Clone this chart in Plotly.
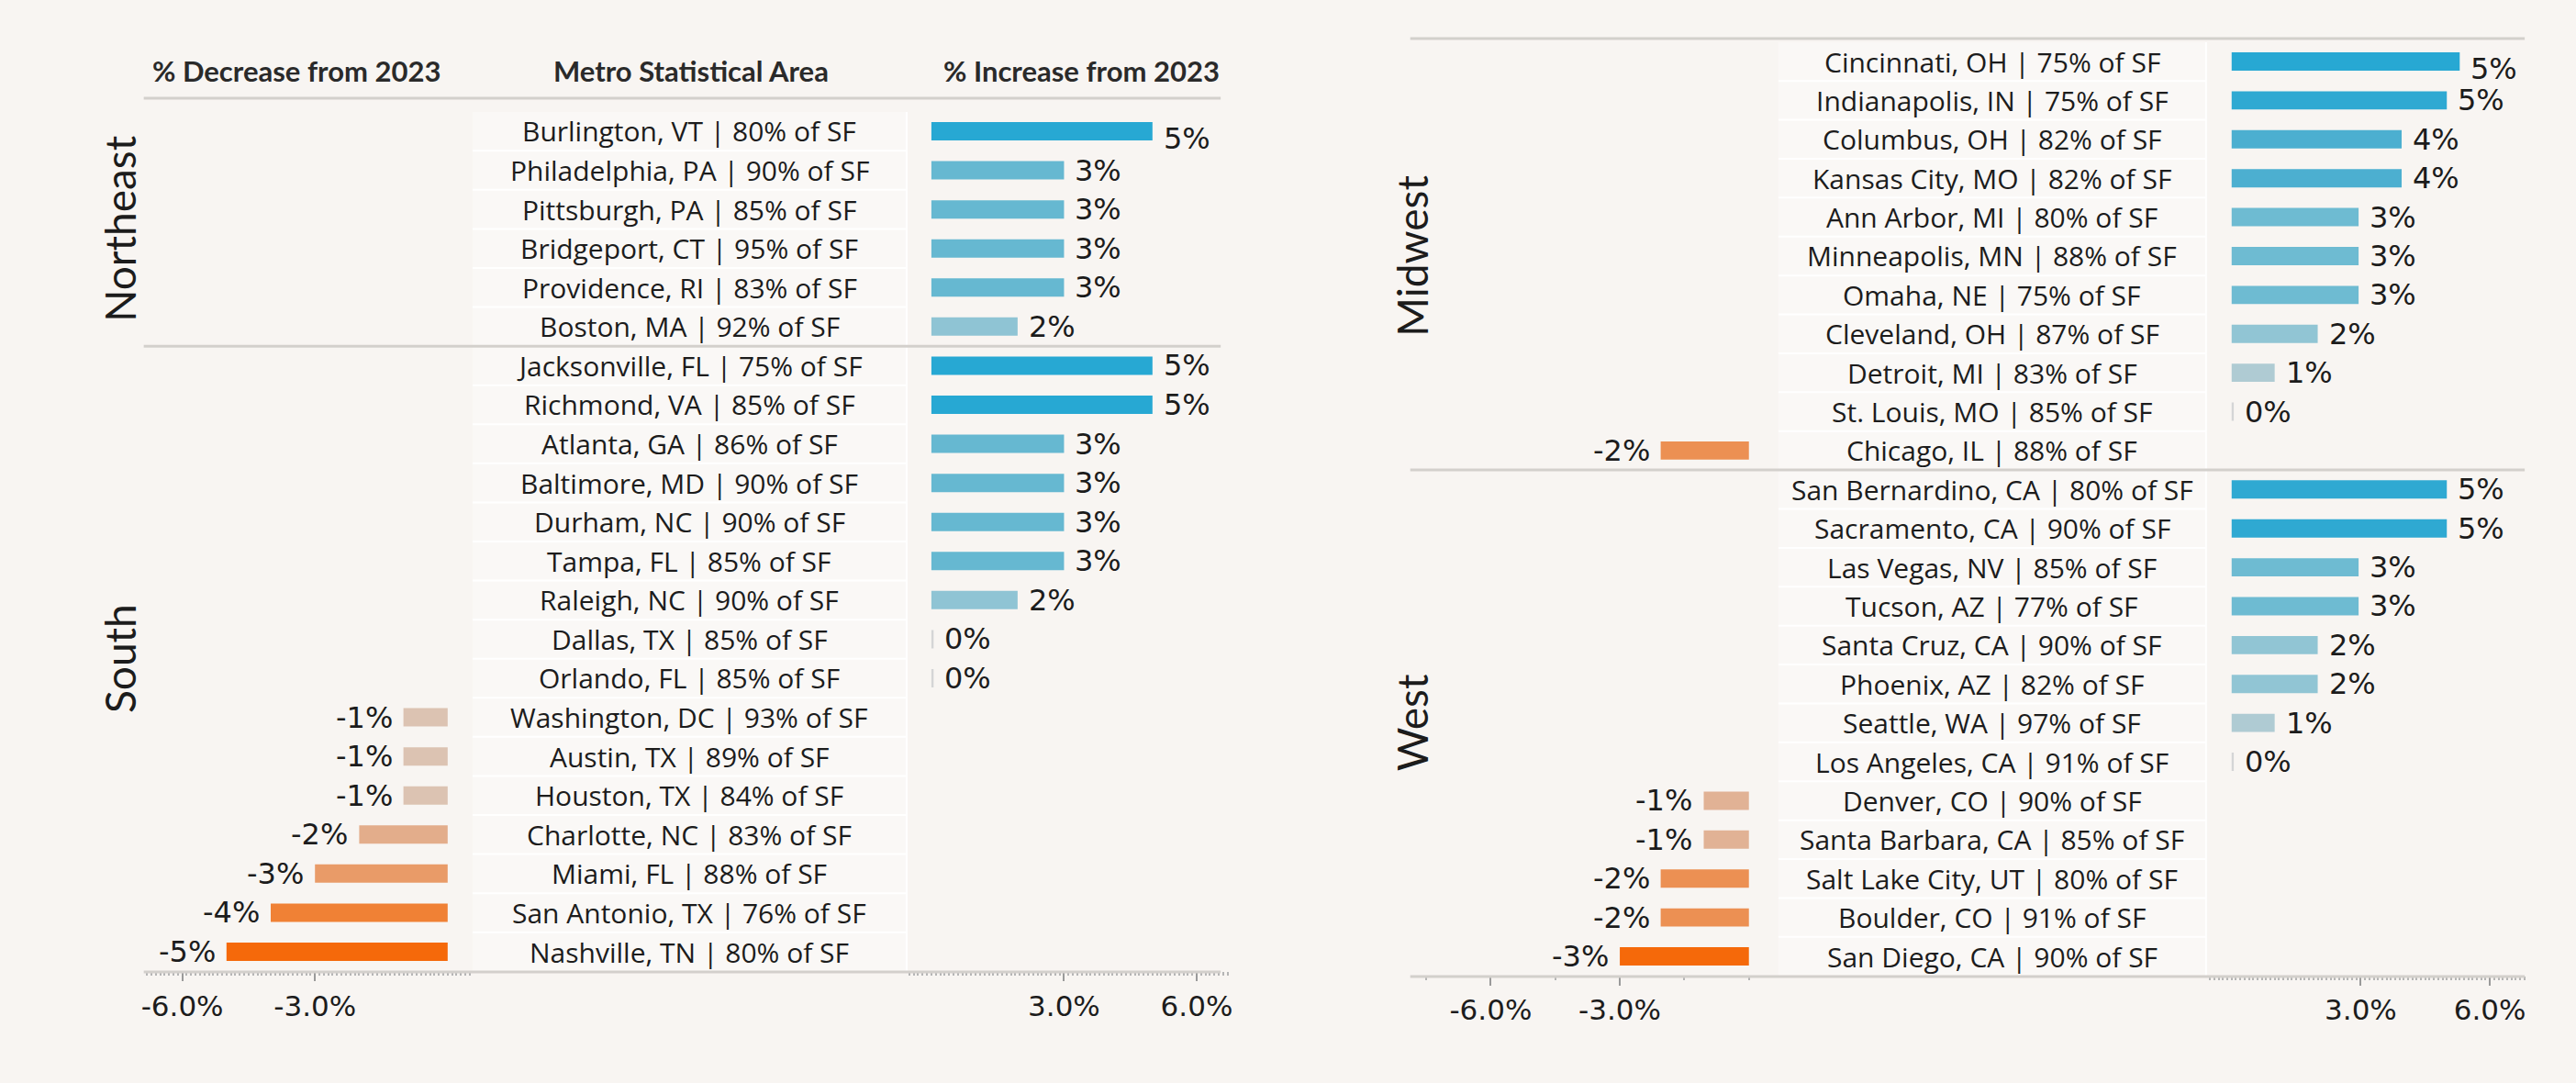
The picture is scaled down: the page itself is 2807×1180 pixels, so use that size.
import plotly.graph_objects as go
from plotly.colors import sample_colorscale

W, H = 2807, 1180
BG = "#f8f5f2"
FONT = "Lato, 'Open Sans', sans-serif"
LABEL_FONT = "'Open Sans', Lato, sans-serif"
NUM_FONT = "'DejaVu Sans', 'Open Sans', sans-serif"

# ---------------- data ----------------
ne_cities = ["Burlington, VT | 80% of SF", "Philadelphia, PA | 90% of SF", "Pittsburgh, PA | 85% of SF",
             "Bridgeport, CT | 95% of SF", "Providence, RI | 83% of SF", "Boston, MA | 92% of SF"]
ne_values = [5.0, 3.0, 3.0, 3.0, 3.0, 1.95]

south_cities = ["Jacksonville, FL | 75% of SF", "Richmond, VA | 85% of SF", "Atlanta, GA | 86% of SF",
                "Baltimore, MD | 90% of SF", "Durham, NC | 90% of SF", "Tampa, FL | 85% of SF",
                "Raleigh, NC | 90% of SF", "Dallas, TX | 85% of SF", "Orlando, FL | 85% of SF",
                "Washington, DC | 93% of SF", "Austin, TX | 89% of SF", "Houston, TX | 84% of SF",
                "Charlotte, NC | 83% of SF", "Miami, FL | 88% of SF", "San Antonio, TX | 76% of SF",
                "Nashville, TN | 80% of SF"]
south_values = [5.0, 5.0, 3.0, 3.0, 3.0, 3.0, 1.95, 0.05, 0.05, -1.0, -1.0, -1.0, -2.0, -3.0, -4.0, -5.0]

mw_cities = ["Cincinnati, OH | 75% of SF", "Indianapolis, IN | 75% of SF", "Columbus, OH | 82% of SF",
             "Kansas City, MO | 82% of SF", "Ann Arbor, MI | 80% of SF", "Minneapolis, MN | 88% of SF",
             "Omaha, NE | 75% of SF", "Cleveland, OH | 87% of SF", "Detroit, MI | 83% of SF",
             "St. Louis, MO | 85% of SF", "Chicago, IL | 88% of SF"]
mw_values = [5.3, 5.0, 3.95, 3.95, 2.95, 2.95, 2.95, 2.0, 1.0, 0.05, -2.05]

west_cities = ["San Bernardino, CA | 80% of SF", "Sacramento, CA | 90% of SF", "Las Vegas, NV | 85% of SF",
               "Tucson, AZ | 77% of SF", "Santa Cruz, CA | 90% of SF", "Phoenix, AZ | 82% of SF",
               "Seattle, WA | 97% of SF", "Los Angeles, CA | 91% of SF", "Denver, CO | 90% of SF",
               "Santa Barbara, CA | 85% of SF", "Salt Lake City, UT | 80% of SF", "Boulder, CO | 91% of SF",
               "San Diego, CA | 90% of SF"]
west_values = [5.0, 5.0, 2.95, 2.95, 2.0, 2.0, 1.0, 0.05, -1.05, -1.05, -2.05, -2.05, -3.0]

neg_ticks = [-6.0, -3.0]
pos_ticks = [3.0, 6.0]

header_left = "% Decrease from 2023"
header_mid = "Metro Statistical Area"
header_right = "% Increase from 2023"

# ---------------- helpers ----------------
BLUE_SCALE = [[0, "#d6d6d6"], [0.2, "#adcad3"], [0.4, "#8dc4d4"], [0.6, "#66b8d1"],
              [0.8, "#42acd0"], [1, "#27a8d3"]]
ORANGE_SCALE = [[0, "#d9d3cd"], [0.2, "#dcc3b2"], [0.4, "#e3ad8b"], [0.6, "#e99b68"],
                [0.8, "#f08135"], [1, "#f5690a"]]


def colors_for(values):
    vmax = max(values)
    vmin = min(values)
    out = []
    for v in values:
        if v >= 0:
            out.append(sample_colorscale(BLUE_SCALE, [min(v / vmax, 1)])[0])
        else:
            out.append(sample_colorscale(ORANGE_SCALE, [min(v / vmin, 1)])[0])
    return out


def px_x(p):
    return p / W


def px_y(p):
    return 1 - p / H


fig = go.Figure()
annotations = []
shapes = []


def build_panel(groups, yname, xneg, xpos, ydom, x_dom_neg, x_dom_pos, rng_neg, rng_pos,
                label_col, region_x, lines_x, header_y, axis_y, neg_minor):
    cities = [c for g in groups for c in g[1]]
    values = [v for g in groups for v in g[2]]
    cols = colors_for(values)
    yref = yname
    xn = xneg.replace("xaxis", "x")
    xp = xpos.replace("xaxis", "x")
    fig.add_trace(go.Bar(
        y=cities, x=[v if v < 0 else None for v in values], orientation="h",
        marker=dict(color=cols, line=dict(width=0)), width=0.47,
        xaxis=xn, yaxis=yref, hoverinfo="skip", showlegend=False))
    fig.add_trace(go.Bar(
        y=cities, x=[v if v >= 0 else None for v in values], orientation="h",
        marker=dict(color=cols, line=dict(width=0)), width=0.47,
        xaxis=xp, yaxis=yref, hoverinfo="skip", showlegend=False))
    n = len(cities)
    for i, (c, v) in enumerate(zip(cities, values)):
        annotations.append(dict(
            x=v, y=c, xref=xp if v >= 0 else xn, yref=yref,
            text=f"{v:.0f}%", showarrow=False,
            xanchor="left" if v >= 0 else "right", xshift=10 if v >= 0 else -10,
            yshift=-8 if i == 0 else 0,
            font=dict(family=NUM_FONT, size=32, color="#1c1c1c")))
        annotations.append(dict(
            x=(label_col[0] + label_col[1]) / 2 / W, y=c, xref="paper", yref=yref,
            text=c, showarrow=False, xanchor="center",
            font=dict(family=LABEL_FONT, size=30, color="#1c1c1c")))
        if i < n - 1:
            shapes.append(dict(type="line", xref="paper", yref=yref,
                               x0=px_x(label_col[0]), x1=px_x(label_col[1]),
                               y0=i + 0.5, y1=i + 0.5,
                               line=dict(color="#ffffff", width=2)))
    shapes.append(dict(type="rect", xref="paper", yref=yref, layer="below",
                       x0=px_x(label_col[0]), x1=px_x(label_col[1]), y0=-0.5, y1=n - 0.5,
                       fillcolor="#faf8f6", line=dict(width=0)))
    shapes.append(dict(type="line", xref="paper", yref=yref,
                       x0=px_x(label_col[1]), x1=px_x(label_col[1]), y0=-0.5, y1=n - 0.5,
                       line=dict(color="#ffffff", width=2)))
    start = 0
    for gi, (rname, gc, gv) in enumerate(groups):
        mid = start + (len(gc) - 1) / 2
        annotations.append(dict(x=px_x(region_x), y=mid, xref="paper", yref=yref,
                                text=rname, showarrow=False, textangle=-90,
                                font=dict(family=FONT, size=46, color="#1c1c1c")))
        if gi > 0:
            shapes.append(dict(type="line", xref="paper", yref=yref,
                               x0=px_x(lines_x[0]), x1=px_x(lines_x[1]),
                               y0=start - 0.5, y1=start - 0.5,
                               line=dict(color="#d3d0cc", width=3)))
        start += len(gc)
    shapes.append(dict(type="line", xref="paper", yref="paper",
                       x0=px_x(lines_x[0]), x1=px_x(lines_x[1]),
                       y0=px_y(header_y), y1=px_y(header_y),
                       line=dict(color="#d3d0cc", width=3)))
    shapes.append(dict(type="line", xref="paper", yref="paper",
                       x0=px_x(lines_x[0]), x1=px_x(lines_x[1]),
                       y0=px_y(axis_y), y1=px_y(axis_y),
                       line=dict(color="#d3d0cc", width=3)))

    ax_common = dict(showgrid=False, zeroline=False, showline=False, ticks="outside",
                     ticklen=10, tickwidth=1.5, tickcolor="#9a9a9a",
                     tickfont=dict(family=NUM_FONT, size=31, color="#1c1c1c"),
                     ticklabelstandoff=0, anchor=yref, fixedrange=True)
    fig.layout[xneg] = dict(ax_common, domain=[px_x(x_dom_neg[0]), px_x(x_dom_neg[1])],
                            range=rng_neg, tickvals=neg_ticks,
                            ticktext=[f"{t:.1f}%" for t in neg_ticks],
                            minor=dict(dtick=neg_minor, ticklen=4, tickcolor="#b5b5b5",
                                       ticks="outside", showgrid=False))
    fig.layout[xpos] = dict(ax_common, domain=[px_x(x_dom_pos[0]), px_x(x_dom_pos[1])],
                            range=rng_pos, tickvals=pos_ticks,
                            ticktext=[f"{t:.1f}%" for t in pos_ticks],
                            minor=dict(dtick=0.1, ticklen=4, tickcolor="#b5b5b5",
                                       ticks="outside", showgrid=False))
    fig.layout[yname.replace("y", "yaxis")] = dict(
        domain=[px_y(ydom[1]), px_y(ydom[0])], categoryorder="array", categoryarray=cities,
        autorange=False, range=[n - 0.5, -0.5], showticklabels=False, showgrid=False,
        zeroline=False, showline=False, ticks="", fixedrange=True,
        anchor=xn)


build_panel(groups=[("Northeast", ne_cities, ne_values), ("South", south_cities, south_values)],
            yname="y", xneg="xaxis", xpos="xaxis2",
            ydom=(121.7, 1058.3), x_dom_neg=(154, 510), x_dom_pos=(988, 1340),
            rng_neg=[-6.87, 0.5], rng_pos=[-0.54, 6.75],
            label_col=(513, 987), region_x=98, lines_x=(154, 1330),
            header_y=107, axis_y=1059, neg_minor=0.1)

build_panel(groups=[("Midwest", mw_cities, mw_values), ("West", west_cities, west_values)],
            yname="y2", xneg="xaxis3", xpos="xaxis4",
            ydom=(45.8, 1063.2), x_dom_neg=(1537, 1935), x_dom_pos=(2410, 2754),
            rng_neg=[-7.87, 0.6], rng_pos=[-0.51, 6.81],
            label_col=(1939, 2406), region_x=1539, lines_x=(1537, 2754),
            header_y=42, axis_y=1064, neg_minor=1.5)

for txt, cx in [(header_left, 321), (header_mid, 752), (header_right, 1178)]:
    annotations.append(dict(x=px_x(cx), y=px_y(77), xref="paper", yref="paper", text=f"<b>{txt}</b>",
                            showarrow=False, xanchor="center", yanchor="middle",
                            font=dict(family=FONT, size=31, color="#2a2a2a")))

fig.update_layout(
    width=W, height=H, margin=dict(l=0, r=0, t=0, b=0),
    paper_bgcolor=BG, plot_bgcolor="rgba(0,0,0,0)",
    annotations=annotations, shapes=shapes, barmode="overlay", showlegend=False,
)

fig.write_html("out.html", config={"displayModeBar": False},
               post_script="document.body.style.margin='0';document.body.style.padding='0';"
                           "document.body.style.overflow='hidden';"
                           f"document.body.style.background='{BG}';")
